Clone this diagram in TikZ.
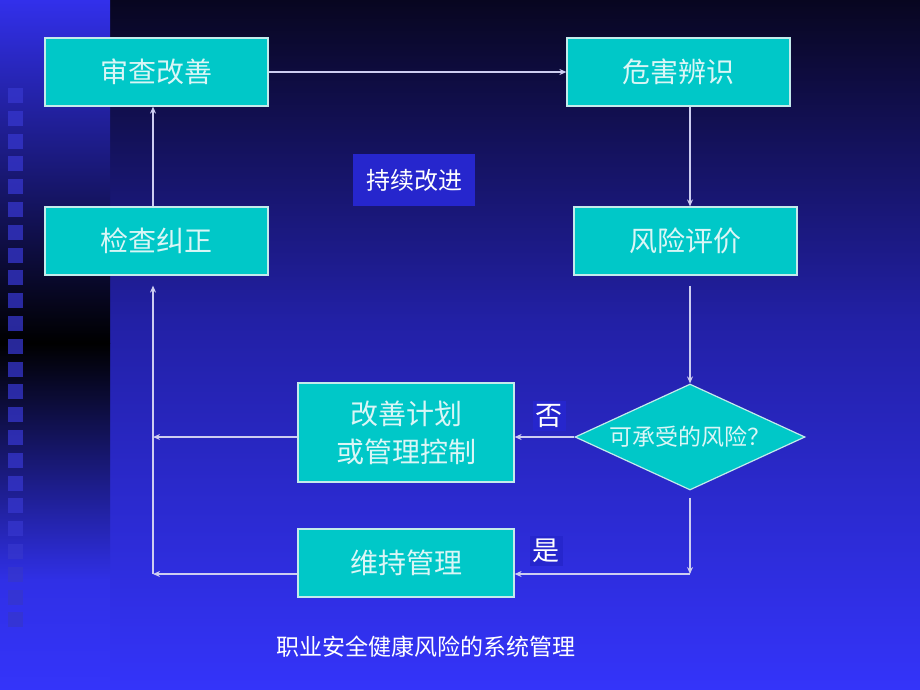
\documentclass[tikz,border=0pt]{standalone}
\usepackage{fontspec}
\setmainfont{Noto Sans CJK SC}
\usetikzlibrary{shapes.geometric,arrows.meta}

\definecolor{boxfill}{RGB}{0,200,200}
\definecolor{boxtext}{RGB}{218,246,246}
\definecolor{boxline}{RGB}{195,235,235}
\definecolor{linecol}{RGB}{205,205,240}
\definecolor{bgtop}{RGB}{8,6,32}
\definecolor{bgmid}{RGB}{34,32,165}
\definecolor{bgbot}{RGB}{52,52,250}
\definecolor{stripblue}{RGB}{50,48,235}
\definecolor{tile}{RGB}{54,54,205}
\definecolor{tagfill}{RGB}{38,38,205}

\begin{document}
\begin{tikzpicture} [
    x=1pt, y=-1pt,
    block/.style    = { rectangle, draw=boxline, line width=1.2pt, fill=boxfill,
                        text=boxtext, text centered, minimum width=223pt,
                        minimum height=68pt, font=\fontsize{28}{38}\selectfont },
    decision/.style = { diamond, draw=boxline, line width=1.2pt, fill=boxfill,
                        text=boxtext, aspect=2.17, inner sep=0pt,
                        minimum width=230pt, minimum height=106pt,
                        font=\fontsize{23}{26}\selectfont },
    tag/.style      = { rectangle, fill=tagfill, text=white, inner sep=3pt },
    line/.style     = { draw=linecol, line width=1.8pt,
                        -{Stealth[length=7pt,width=6pt]} },
  ]

  \useasboundingbox (0,0) rectangle (920,690);

  % background
  \shade[top color=bgtop, bottom color=bgmid] (110,0) rectangle (920,320);
  \shade[top color=bgmid, bottom color=bgbot] (110,320) rectangle (920,690);
  \shade[top color=stripblue, bottom color=black] (0,0) rectangle (110,343);
  \shade[top color=black, bottom color=bgbot!92!black] (0,343) rectangle (110,580);
  \shade[top color=bgbot!92!black, bottom color=bgbot] (0,580) rectangle (110,690);
  \foreach \k in {0,...,23}
    \fill[tile, opacity=0.75] (8,88+22.8*\k) rectangle ++(15,15);

  % Define nodes
  \node[block] (review) at (156.5,72) {审查改善};
  \node[block] (hazard) at (678.5,72) {危害辨识};
  \node[block] (check)  at (156.5,241) {检查纠正};
  \node[block] (risk)   at (685.5,241) {风险评价};
  \node[tag, minimum width=122pt, minimum height=52pt,
        font=\fontsize{24}{28}\selectfont] (cycle) at (414,180) {持续改进};
  \node[block, minimum width=216pt, minimum height=99pt, align=center]
        (plan) at (406,432.5) {改善计划\\或管理控制};
  \node[block, minimum width=216pt] (keep) at (406,563) {维持管理};
  \node[decision] (accept) at (690,437) {可承受的风险？};
  \node[tag, font=\fontsize{27}{30}\selectfont] (no)  at (549,416) {否};
  \node[tag, font=\fontsize{27}{30}\selectfont] (yes) at (546,551) {是};
  \node[text=white, font=\fontsize{23}{26}\selectfont] (title) at (426,647)
        {职业安全健康风险的系统管理};

  \coordinate (turn)    at (690,574);
  \coordinate (nojoin)  at (153,437);
  \coordinate (yesjoin) at (153,574);

  % connect the nodes
		\path [line] (review) -- (hazard);
		\path [line] (hazard.south -| accept.north) -- (risk.north -| accept.north);
		\path [line, shorten <=10pt] (risk.south -| accept.north) -- (accept.north);
		\path [line] (accept.west) -- (accept.west -| plan.east);
		\path [line] (plan.west |- nojoin) -- (nojoin);
		\path [line, shorten <=7pt] (accept.south) -- (turn);
		\path [line] (turn) -- (turn -| keep.east);
		\path [line] (keep.west |- yesjoin) -- (yesjoin);
		\path [line, shorten >=10pt] (yesjoin) -- (check.south -| yesjoin);
		\path [line] (check.north -| yesjoin) -- (review.south -| yesjoin);
\end{tikzpicture}
\end{document}
